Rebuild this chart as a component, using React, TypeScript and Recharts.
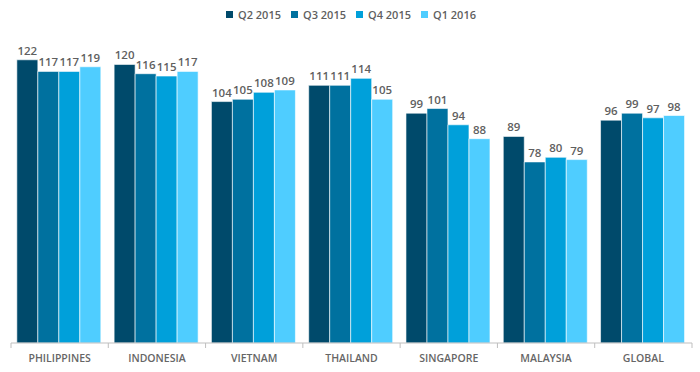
import * as React from 'react';
import { BarChart, Bar, XAxis, YAxis, LabelList } from 'recharts';

const categories = ['PHILIPPINES', 'INDONESIA', 'VIETNAM', 'THAILAND', 'SINGAPORE', 'MALAYSIA', 'GLOBAL'];
const seriesNames = ['Q2 2015', 'Q3 2015', 'Q4 2015', 'Q1 2016'];
const q2_2015 = [122, 120, 104, 111, 99, 89, 96];
const q3_2015 = [117, 116, 105, 111, 101, 78, 99];
const q4_2015 = [117, 115, 108, 114, 94, 80, 97];
const q1_2016 = [119, 117, 109, 105, 88, 79, 98];

const colors = ['#004a6b', '#00719f', '#00a0da', '#4fcdff'];
const keys = ['q2', 'q3', 'q4', 'q1'];
const FONT = '"Open Sans", sans-serif';
const GRAY = '#5f5f5f';

const data = categories.map((c, i) => ({
  name: c,
  q2: q2_2015[i],
  q3: q3_2015[i],
  q4: q4_2015[i],
  q1: q1_2016[i],
}));

// category label plus boundary tick marks
function CategoryTick(props: any) {
  const { x, y, payload, index } = props;
  const half = payload.offset || 0;
  return (
    <g>
      <line x1={x - half} x2={x - half} y1={y - 8} y2={y - 3} stroke="#bfbfbf" />
      {index === categories.length - 1 && (
        <line x1={x + half} x2={x + half} y1={y - 8} y2={y - 3} stroke="#bfbfbf" />
      )}
      <text x={x} y={y + 11} textAnchor="middle" fill="#666666" fontSize={10.5} fontWeight={600} fontFamily={FONT}>
        {payload.value}
      </text>
    </g>
  );
}

export default function App() {
  return (
    <div style={{ position: 'absolute', left: 0, top: 0, width: 700, height: 372, background: '#fff' }}>
      <div
        style={{
          position: 'absolute', top: 7, left: 226, display: 'flex',
          fontFamily: FONT, fontSize: 11, fontWeight: 600, color: GRAY,
        }}
      >
        {seriesNames.map((s, i) => (
          <span key={s} style={{ display: 'flex', alignItems: 'center', width: 65 }}>
            <span style={{ display: 'inline-block', width: 7, height: 7, background: colors[i], marginRight: 5 }} />
            {s}
          </span>
        ))}
      </div>
      <BarChart
        width={700}
        height={372}
        data={data}
        margin={{ top: 18, right: 8, bottom: 0, left: 11 }}
        barCategoryGap="6%"
        barGap={0}
      >
        <XAxis
          dataKey="name"
          height={29}
          axisLine={{ stroke: '#bfbfbf' }}
          tickLine={false}
          tick={<CategoryTick />}
          interval={0}
        />
        <YAxis hide domain={[0, 140]} />
        {keys.map((k, i) => (
          <Bar key={k} dataKey={k} name={seriesNames[i]} fill={colors[i]} stroke="#ffffff" strokeWidth={0.6} isAnimationActive={false}>
            <LabelList dataKey={k} position="top" offset={5} fill={GRAY} fontSize={11.5} fontWeight={600} fontFamily={FONT} />
          </Bar>
        ))}
      </BarChart>
    </div>
  );
}
